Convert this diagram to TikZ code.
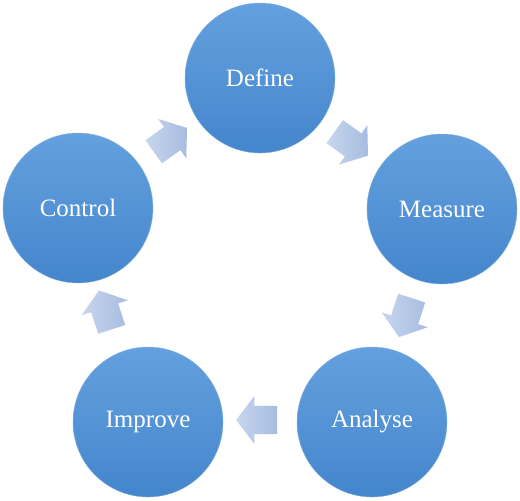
\documentclass[tikz,border=0pt]{standalone}
\usepackage{fontspec}
\setmainfont{Liberation Serif}
\usetikzlibrary{shapes.arrows,calc}
\definecolor{circtop}{RGB}{100,160,222}
\definecolor{circbot}{RGB}{68,134,204}
\definecolor{arrtop}{RGB}{200,214,238}
\definecolor{arrbot}{RGB}{166,188,224}
\tikzset{
  stepcircle/.style={circle, minimum size=150pt, inner sep=0pt,
    top color=circtop, bottom color=circbot, draw=circbot!60!white, line width=0.4pt,
    text=white, font=\fontsize{25}{29}\selectfont},
  blockarrow/.style={single arrow, draw=none, inner sep=14pt,
    minimum height=41pt, single arrow head extend=10pt,
    single arrow tip angle=106, left color=arrtop, right color=arrbot}
}
\begin{document}
\begin{tikzpicture}[x=1pt,y=-1pt]
\useasboundingbox (0,0) rectangle (520,501);
\node[stepcircle] (define) at (260,78) {Define};
\node[stepcircle] (measure) at (442,209) {Measure};
\node[stepcircle] (analyse) at (372,422) {Analyse};
\node[stepcircle] (improve) at (148,422) {Improve};
\node[stepcircle] (control) at (78,208) {Control};
\node[blockarrow, rotate=35.5] (a1) at ($(control)!0.5!(define)+(-3,0)$) {};
\node[blockarrow, rotate=-35.7] (a2) at ($(define)!0.5!(measure)+(-4,-3)$) {};
\node[blockarrow, rotate=-108] (a3) at ($(measure)!0.5!(analyse)+(0,-3)$) {};
\node[blockarrow, rotate=180] (a4) at ($(analyse)!0.5!(improve)+(2,-2)$) {};
\node[blockarrow, rotate=108] (a5) at ($(improve)!0.5!(control)+(-6,0)$) {};
\end{tikzpicture}
\end{document}
